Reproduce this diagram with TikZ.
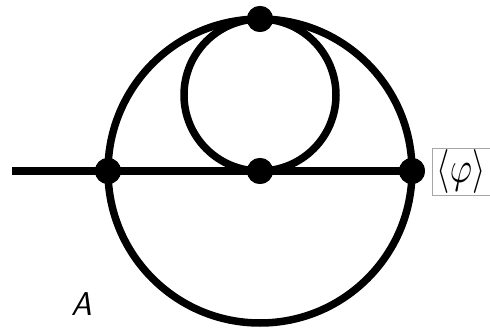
\documentclass[tikz,border=0pt]{standalone}
\usepackage{amsmath}
\usepackage{graphicx}
\begin{document}
\begin{tikzpicture}[x=1pt,y=-1pt,
  edge/.style={line width=7.5pt},
  vtx/.style={circle,fill=black,inner sep=0pt,minimum size=26pt}]
\useasboundingbox (0,0) rectangle (490,331);
\coordinate (C) at (260,171);
\coordinate (c) at (260,95);
\node[vtx] (t) at (260,19) {};
\node[vtx] (l) at (108,171) {};
\node[vtx] (m) at (260,171) {};
\node[vtx] (r) at (412,171) {};
\coordinate (e) at (12,171);
\draw[edge] (C) circle[radius=152];
\draw[edge] (c) circle[radius=76];
\draw[edge] (e) -- (l.center) -- (m.center) -- (r.center);
\node[vtx] at (t) {};
\node[vtx] at (l) {};
\node[vtx] at (m) {};
\node[vtx] at (r) {};
\node[draw=gray!70,line width=0.6pt,minimum width=58pt,minimum height=47pt,inner sep=0pt] (lab) at (461,171.5) {\scalebox{3.4}[4.4]{$\langle\varphi\rangle$}};
\node[font=\sffamily\itshape\fontsize{33}{33}\selectfont,inner sep=0pt] (A) at (81.5,304.5) {A};
\end{tikzpicture}
\end{document}
